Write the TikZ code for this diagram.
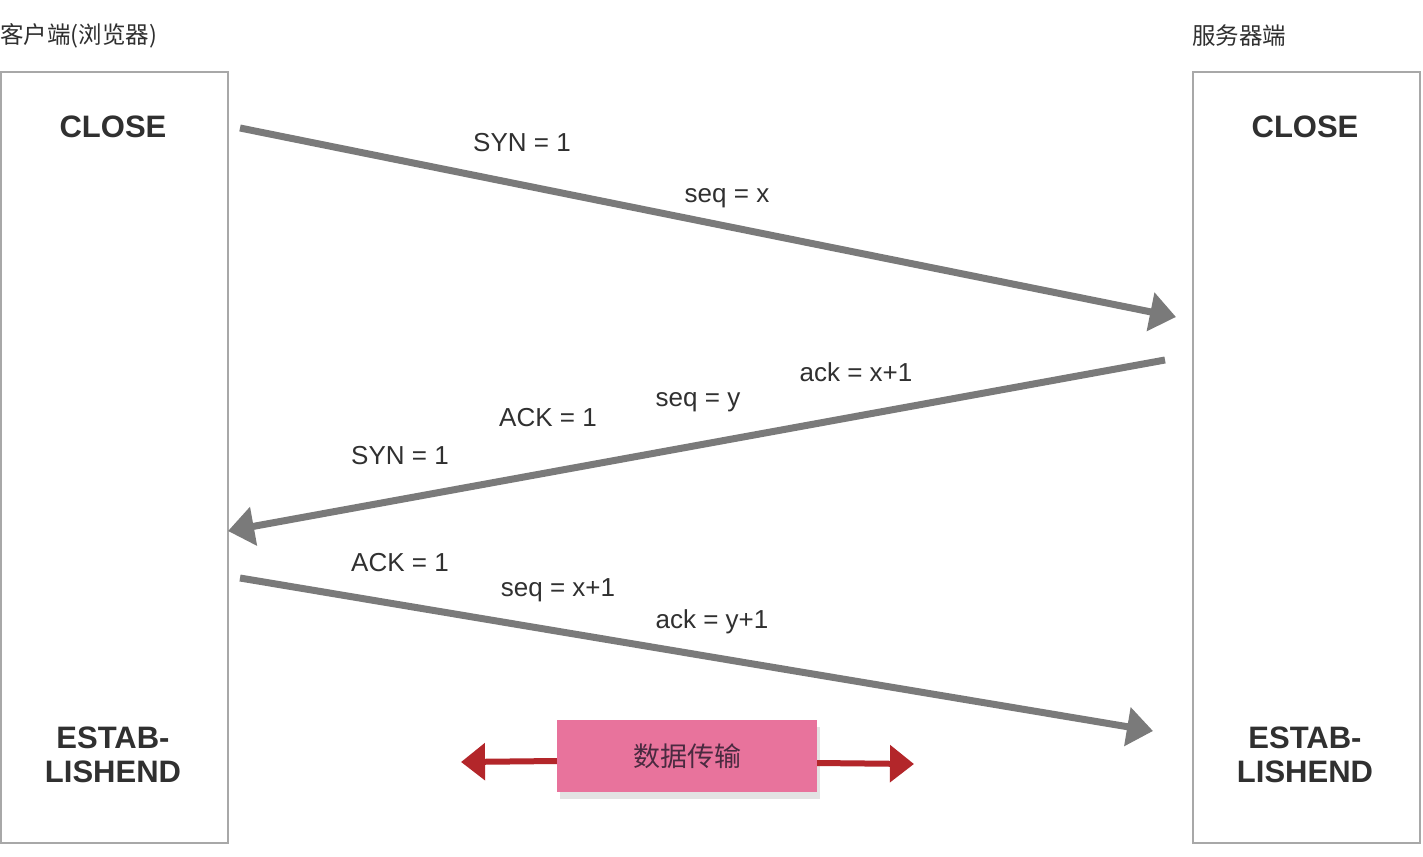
\documentclass[tikz,border=0pt]{standalone}
\usepackage{fontspec}
\setmainfont{Liberation Sans}
\newfontfamily\cjk{Noto Sans CJK SC}
\usetikzlibrary{arrows.meta,shadows}
\definecolor{txt}{HTML}{303030}
\definecolor{boxline}{HTML}{A8A8A8}
\definecolor{arrowgray}{HTML}{7A7A7A}
\definecolor{pinkfill}{HTML}{E8739C}
\definecolor{darkred}{HTML}{B3262A}
\definecolor{dttext}{HTML}{4A2A40}
\tikzset{
  host/.style={draw=boxline, line width=1.6pt, anchor=north west, minimum width=227pt, minimum height=771pt, inner sep=0pt},
  state/.style={text=txt, font=\fontsize{31}{34}\selectfont\bfseries, align=center, inner sep=0pt},
  lbl/.style={text=txt, font=\fontsize{26}{28}\selectfont, inner sep=0pt},
  title/.style={text=txt, font=\cjk\fontsize{23.5}{26}\selectfont, anchor=west, inner sep=0pt},
  msg/.style={draw=arrowgray, line width=7pt, -{Triangle[length=26pt,width=38pt]}},
  data/.style={draw=darkred, line width=6pt, -{Triangle[length=24pt,width=36pt]}},
}
\begin{document}
\begin{tikzpicture}[x=1pt,y=-1pt]
\useasboundingbox (0,0) rectangle (1423,856);
\fill[white] (0,0) rectangle (1423,856);
% hosts
\node[host] (client) at (0,71) {};
\node[host] (server) at (1192,71) {};
\node[title] (ctitle) at (0,36) {客户端(浏览器)};
\node[title] (stitle) at (1192,36) {服务器端};
% states
\node[state] (cclose) at (113,127) {CLOSE};
\node[state] (sclose) at (1305,127) {CLOSE};
\node[state] (cest) at (113,755) {ESTAB-\\LISHEND};
\node[state] (sest) at (1305,755) {ESTAB-\\LISHEND};
% message endpoints
\coordinate (m1s) at (240,128);
\coordinate (m1e) at (1176,317);
\coordinate (m2s) at (1165,360);
\coordinate (m2e) at (228,531);
\coordinate (m3s) at (240,578);
\coordinate (m3e) at (1153,731);
\draw[msg] (m1s) -- (m1e);
\draw[msg] (m2s) -- (m2e);
\draw[msg] (m3s) -- (m3e);
% labels
\node[lbl] (l1) at (522,143) {SYN = 1};
\node[lbl] (l2) at (727,198) {seq = x};
\node[lbl] (l3) at (856,372) {ack = x+1};
\node[lbl] (l4) at (698,402) {seq = y};
\node[lbl] (l5) at (548,418) {ACK = 1};
\node[lbl] (l6) at (400,456) {SYN = 1};
\node[lbl] (l7) at (400,563) {ACK = 1};
\node[lbl] (l8) at (558,590) {seq = x+1};
\node[lbl] (l9) at (712,622) {ack = y+1};
% data transfer
\node[fill=pinkfill, minimum width=260pt, minimum height=72pt, inner sep=0pt,
      drop shadow={shadow xshift=3pt, shadow yshift=-7pt, opacity=0.22}, text=dttext,
      font=\cjk\fontsize{27}{30}\selectfont] (dt) at (687,756) {数据传输};
\coordinate (dl) at (461,762);
\coordinate (dr) at (914,764);
\draw[data] (dt.west |- 0,761) -- (dl);
\draw[data] (dt.east |- 0,763) -- (dr);
\end{tikzpicture}
\end{document}
